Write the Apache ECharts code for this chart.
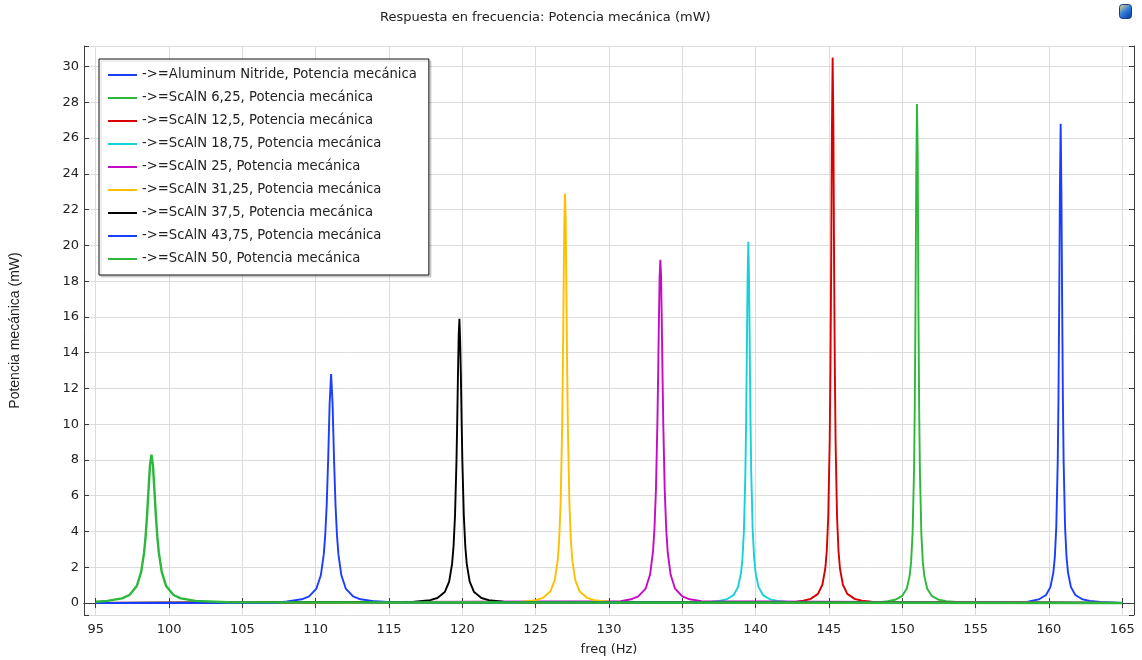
<!DOCTYPE html>
<html>
<head>
<meta charset="utf-8">
<script src="https://cdn.jsdelivr.net/npm/echarts@6/dist/echarts.min.js"></script>
<style>
  html, body { margin: 0; padding: 0; background: #fff; }
  #chart { width: 1142px; height: 660px; }
</style>
</head>
<body>
<div id="chart"></div>
<script>
// [freq (Hz), potencia (mW)]
const alnData = [[95,0],[158.5,0.06],[158.8,0.113],[159.3,0.2],[159.8,0.45],[160.1,0.89],[160.3,1.7],[160.4,2.56],[160.5,4.24],[160.6,7.96],[160.65,11.5],[160.7,16.83],[160.75,23.34],[160.8,26.8],[160.85,23.0],[160.9,16.83],[160.95,11.5],[161.0,7.96],[161.1,4.24],[161.2,2.56],[161.3,1.7],[161.5,0.89],[161.8,0.45],[162.3,0.2],[162.8,0.113],[163.5,0.06],[163.6,0],[165,0]];
const sc625Data = [[95,0],[148.6,0.06],[149.0,0.10],[149.5,0.18],[150.0,0.40],[150.3,0.80],[150.5,1.52],[150.6,2.30],[150.7,3.85],[150.8,7.38],[150.85,10.89],[150.9,16.47],[150.95,23.77],[151.0,27.9],[151.05,25.3],[151.1,16.47],[151.15,10.89],[151.2,7.38],[151.3,3.85],[151.4,2.30],[151.5,1.52],[151.7,0.80],[152.0,0.40],[152.5,0.18],[153.0,0.10],[153.7,0.055],[153.8,0],[165,0]];
const sc125Data = [[95,0],[142.8,0.07],[143.25,0.128],[143.75,0.23],[144.25,0.51],[144.55,1.02],[144.75,1.93],[144.85,2.91],[144.95,4.82],[145.05,9.06],[145.1,13.08],[145.15,18.8],[145.2,26.4],[145.25,30.5],[145.3,26.8],[145.35,18.8],[145.4,13.08],[145.45,9.06],[145.55,4.82],[145.65,2.91],[145.75,1.93],[145.95,1.02],[146.25,0.51],[146.75,0.23],[147.25,0.128],[147.9,0.07],[148.0,0],[165,0]];
const sc1875Data = [[95,0],[137.0,0.07],[137.5,0.113],[138.0,0.20],[138.5,0.445],[138.8,0.89],[139.0,1.67],[139.1,2.49],[139.2,4.04],[139.3,7.27],[139.35,10.1],[139.4,13.99],[139.45,18.18],[139.5,20.2],[139.55,18.0],[139.6,13.99],[139.65,10.1],[139.7,7.27],[139.8,4.04],[139.9,2.49],[140.0,1.67],[140.2,0.89],[140.5,0.445],[141.0,0.20],[141.5,0.113],[142.2,0.065],[142.3,0],[165,0]];
const sc25Data = [[95,0],[130.8,0.1],[131.5,0.21],[132.0,0.37],[132.5,0.81],[132.8,1.59],[133.0,2.88],[133.1,4.15],[133.2,6.31],[133.3,10.07],[133.35,12.71],[133.4,15.65],[133.45,18.17],[133.5,19.2],[133.55,18.3],[133.6,15.65],[133.65,12.71],[133.7,10.07],[133.8,6.31],[133.9,4.15],[134.0,2.88],[134.2,1.59],[134.5,0.81],[135.0,0.37],[135.5,0.21],[136.3,0.107],[136.4,0],[165,0]];
const sc3125Data = [[95,0],[124.1,0.07],[125.0,0.164],[125.5,0.29],[126.0,0.64],[126.3,1.28],[126.5,2.37],[126.6,3.50],[126.7,5.57],[126.8,9.61],[126.85,12.87],[126.9,17.01],[126.95,21.08],[127.0,22.9],[127.05,21.3],[127.1,17.01],[127.15,12.87],[127.2,9.61],[127.3,5.57],[127.4,3.50],[127.5,2.37],[127.7,1.28],[128.0,0.64],[128.5,0.29],[129.0,0.164],[130.0,0.07],[130.1,0],[165,0]];
const sc375Data = [[95,0],[116.6,0.065],[117.8,0.157],[118.3,0.28],[118.8,0.61],[119.1,1.20],[119.3,2.19],[119.4,3.18],[119.5,4.89],[119.6,7.95],[119.65,10.18],[119.7,12.72],[119.75,14.96],[119.8,15.9],[119.85,14.6],[119.9,12.72],[119.95,10.18],[120.0,7.95],[120.1,4.89],[120.2,3.18],[120.3,2.19],[120.5,1.20],[120.8,0.61],[121.3,0.28],[121.8,0.157],[122.8,0.07],[123.2,0.055],[123.3,0],[165,0]];
const sc4375Data = [[95,0],[107.2,0],[107.3,0.06],[108.05,0.095],[109.05,0.21],[109.55,0.37],[110.05,0.81],[110.35,1.55],[110.55,2.72],[110.65,3.80],[110.75,5.49],[110.85,8.04],[110.95,11.15],[111.05,12.8],[111.15,11.15],[111.25,8.04],[111.35,5.49],[111.45,3.80],[111.55,2.72],[111.75,1.55],[112.05,0.81],[112.55,0.37],[113.05,0.21],[114.05,0.095],[115.2,0.05],[115.3,0],[165,0]];
const sc50Data = [[95,0.07],[95.8,0.12],[96.8,0.26],[97.3,0.45],[97.8,0.95],[98.1,1.74],[98.3,2.83],[98.4,3.71],[98.5,4.90],[98.6,6.34],[98.7,7.71],[98.8,8.3],[98.9,7.71],[99.0,6.34],[99.1,4.90],[99.2,3.71],[99.3,2.83],[99.5,1.74],[99.8,0.95],[100.3,0.45],[100.8,0.26],[101.8,0.12],[104.0,0.04],[104.1,0],[165,0]];

const seriesNames = [
  '->=Aluminum Nitride, Potencia mecánica',
  '->=ScAlN 6,25, Potencia mecánica',
  '->=ScAlN 12,5, Potencia mecánica',
  '->=ScAlN 18,75, Potencia mecánica',
  '->=ScAlN 25, Potencia mecánica',
  '->=ScAlN 31,25, Potencia mecánica',
  '->=ScAlN 37,5, Potencia mecánica',
  '->=ScAlN 43,75, Potencia mecánica',
  '->=ScAlN 50, Potencia mecánica'
];
const seriesData = [alnData, sc625Data, sc125Data, sc1875Data, sc25Data, sc3125Data, sc375Data, sc4375Data, sc50Data];
const seriesColors = ['#1a3dff', '#2cb83a', '#d90000', '#14d2d8', '#c60ac6', '#ffbf00', '#000000', '#1a3dff', '#2cb83a'];

const FONT = 'DejaVu Sans';
const frameColor = '#3c3c3c';

var myChart = echarts.init(document.getElementById('chart'), null, { renderer: 'canvas' });

var axisCommon = {
  type: 'value',
  axisLine: { show: true, lineStyle: { color: frameColor, width: 1 } },
  axisTick: { show: true, inside: true, length: 5, lineStyle: { color: frameColor } }
};

myChart.setOption({
  animation: false,
  backgroundColor: '#fff',
  title: {
    text: 'Respuesta en frecuencia: Potencia mecánica (mW)',
    left: 380,
    top: 11,
    padding: 0,
    textStyle: { fontFamily: FONT, fontSize: 13, fontWeight: 'normal', color: '#222' }
  },
  legend: {
    orient: 'vertical',
    left: 99,
    top: 59,
    padding: [8, 12, 8, 9],
    backgroundColor: '#fff',
    borderColor: '#111',
    borderWidth: 1,
    shadowColor: 'rgba(0,0,0,0.15)',
    shadowBlur: 1,
    shadowOffsetX: 2,
    shadowOffsetY: 2,
    icon: 'rect',
    itemWidth: 29,
    itemHeight: 2,
    itemGap: 7,
    textStyle: { fontFamily: FONT, fontSize: 13.2, color: '#222', lineHeight: 16 },
    data: seriesNames
  },
  grid: {
    left: 84,
    right: 8,
    top: 46,
    bottom: 45,
    containLabel: false,
    outerBoundsMode: 'none'
  },
  xAxis: [
    Object.assign({}, axisCommon, {
      position: 'bottom',
      min: 94.2,
      max: 165.8,
      splitNumber: 14,
      name: 'freq (Hz)',
      nameLocation: 'middle',
      nameGap: 28,
      nameTextStyle: { fontFamily: FONT, fontSize: 13, color: '#222' },
      axisLabel: {
        margin: 8,
        fontFamily: FONT,
        fontSize: 13,
        color: '#222',
        formatter: v => (v % 5 === 0 ? String(v) : '')
      },
      splitLine: { show: true, lineStyle: { color: '#dcdcdc', width: 1 } }
    }),
    Object.assign({}, axisCommon, {
      position: 'top',
      min: 94.2,
      max: 165.8,
      splitNumber: 14,
      axisLabel: { show: false },
      splitLine: { show: false }
    })
  ],
  yAxis: [
    Object.assign({}, axisCommon, {
      position: 'left',
      min: -0.67,
      max: 31.15,
      splitNumber: 16,
      name: 'Potencia mecánica (mW)',
      nameLocation: 'middle',
      nameGap: 62,
      nameTextStyle: { fontFamily: 'Liberation Sans', fontSize: 14, color: '#222' },
      axisLabel: {
        margin: 5,
        fontFamily: FONT,
        fontSize: 13,
        color: '#222',
        formatter: v => (Math.abs(v % 2) < 1e-9 ? String(v) : '')
      },
      splitLine: { show: true, lineStyle: { color: '#dcdcdc', width: 1 } }
    }),
    Object.assign({}, axisCommon, {
      position: 'right',
      min: -0.67,
      max: 31.15,
      splitNumber: 16,
      axisLabel: { show: false },
      splitLine: { show: false }
    })
  ],
  series: seriesNames.map((name, i) => ({
    name: name,
    type: 'line',
    xAxisIndex: 0,
    yAxisIndex: 0,
    data: seriesData[i],
    showSymbol: false,
    symbol: 'none',
    sampling: null,
    lineStyle: { color: seriesColors[i], width: i === 8 ? 2.4 : 1.9 },
    itemStyle: { color: seriesColors[i] },
    emphasis: { disabled: true }
  })),
  graphic: [
    {
      type: 'rect',
      left: 1119,
      top: 4,
      shape: { width: 12, height: 14, r: 3 },
      style: {
        fill: new echarts.graphic.LinearGradient(0, 0, 1, 1, [
          { offset: 0, color: '#ffe27a' },
          { offset: 0.5, color: '#2a7be0' },
          { offset: 1, color: '#0a2c8c' }
        ]),
        stroke: '#1a3a8a',
        lineWidth: 1
      }
    }
  ]
});

window.addEventListener('resize', () => myChart.resize());
</script>
</body>
</html>
